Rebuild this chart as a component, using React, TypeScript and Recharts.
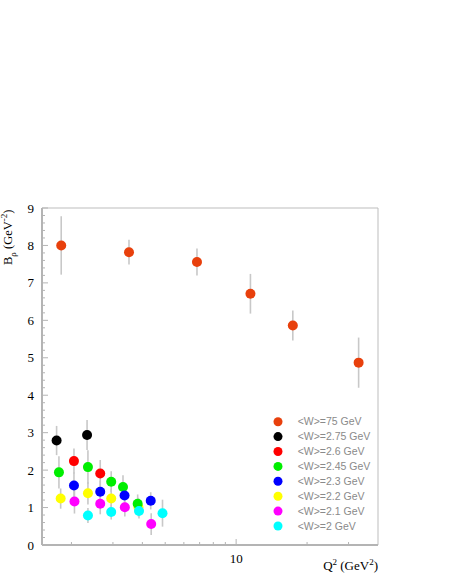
import React from 'react';
import { ScatterChart, Scatter, XAxis, YAxis, ErrorBar, ReferenceArea, Legend } from 'recharts';

// Q^2 (GeV^2), B_rho (GeV^-2) and its error, one set per <W> bin
const q2W75 = [1.81, 3.51, 6.82, 11.5, 17.4, 33.1];
const bW75 = [8.0, 7.82, 7.56, 6.71, 5.86, 4.87];
const eW75 = [0.78, 0.33, 0.36, 0.53, 0.4, 0.67];

const q2W275 = [1.73, 2.33];
const bW275 = [2.79, 2.94];
const eW275 = [0.39, 0.4];

const q2W26 = [2.05, 2.65];
const bW26 = [2.24, 1.91];
const eW26 = [0.34, 0.36];

const q2W245 = [1.77, 2.35, 2.95, 3.31, 3.82];
const bW245 = [1.94, 2.08, 1.69, 1.55, 1.1];
const eW245 = [0.43, 0.45, 0.28, 0.31, 0.25];

const q2W23 = [2.05, 2.65, 3.36, 4.34];
const bW23 = [1.59, 1.42, 1.32, 1.18];
const eW23 = [0.35, 0.3, 0.25, 0.23];

const q2W22 = [1.8, 2.35, 2.95, 3.85];
const bW22 = [1.24, 1.38, 1.24, 1.01];
const eW22 = [0.27, 0.3, 0.25, 0.25];

const q2W21 = [2.06, 2.65, 3.37, 4.36];
const bW21 = [1.16, 1.1, 1.01, 0.56];
const eW21 = [0.32, 0.28, 0.25, 0.29];

const q2W2 = [2.35, 2.95, 3.87, 4.87];
const bW2 = [0.79, 0.88, 0.91, 0.85];
const eW2 = [0.2, 0.2, 0.2, 0.36];

const xTicks = [2, 3, 4, 5, 6, 7, 8, 9, 10, 20, 30];
const xLabels = [10];
const yMajor = [0, 1, 2, 3, 4, 5, 6, 7, 8, 9];

const pts = (q: number[], b: number[], e: number[]) => q.map((x, i) => ({ q2: x, b: b[i], err: e[i] }));

const series = [
  { name: '<W>=75 GeV', color: '#e8400c', data: pts(q2W75, bW75, eW75) },
  { name: '<W>=2.75 GeV', color: '#000000', data: pts(q2W275, bW275, eW275) },
  { name: '<W>=2.6 GeV', color: '#ff0000', data: pts(q2W26, bW26, eW26) },
  { name: '<W>=2.45 GeV', color: '#00ee00', data: pts(q2W245, bW245, eW245) },
  { name: '<W>=2.3 GeV', color: '#0000ff', data: pts(q2W23, bW23, eW23) },
  { name: '<W>=2.2 GeV', color: '#ffff00', data: pts(q2W22, bW22, eW22) },
  { name: '<W>=2.1 GeV', color: '#ff00ff', data: pts(q2W21, bW21, eW21) },
  { name: '<W>=2 GeV', color: '#00ffff', data: pts(q2W2, bW2, eW2) },
];
// draw order of the markers (yellow sits under green / cyan in the original)
const drawOrder = [0, 5, 1, 2, 3, 4, 6, 7];

const allErrors = series.flatMap((s) => s.data);

// minor ticks every 0.2
const yTicks = yMajor.flatMap((v, i) => (i < yMajor.length - 1 ? [v, v + 0.2, v + 0.4, v + 0.6, v + 0.8] : [v]));

const AXIS = '#b4b4b4';
const SERIF = '"Liberation Serif", "Times New Roman", serif';

const XTick = (props: any) => {
  const { x, y, payload } = props;
  const v = payload.value;
  const labelled = xLabels.includes(v);
  return (
    <g>
      <line x1={x} x2={x} y1={y} y2={y - (labelled ? 6 : 3)} stroke={AXIS} />
      {labelled && (
        <text x={x} y={y + 18} textAnchor="middle" fontFamily={SERIF} fontSize={13} fill="#000">
          {v}
        </text>
      )}
    </g>
  );
};

const YTick = (props: any) => {
  const { x, y, payload } = props;
  const v = payload.value;
  const major = Math.abs(v - Math.round(v)) < 1e-6;
  return (
    <g>
      <line x1={x} x2={x + (major ? 6 : 3)} y1={y} y2={y} stroke={AXIS} />
      {major && (
        <text x={x - 8} y={y + 4.5} textAnchor="end" fontFamily={SERIF} fontSize={13} fill="#000">
          {Math.round(v)}
        </text>
      )}
    </g>
  );
};

const LegendBox = () => (
  <svg width={130} height={125}>
    {series.map((s, i) => (
      <g key={s.name}>
        <circle cx={10} cy={9.7 + i * 14.9} r={4.5} fill={s.color} />
        <text
          x={29.7}
          y={9.7 + i * 14.9 + 3.7}
          fontFamily='"Liberation Sans", Arial, sans-serif'
          fontSize={10.5}
          fill="#8a8a8a"
        >
          {s.name}
        </text>
      </g>
    ))}
  </svg>
);

export default function App() {
  return (
    <div style={{ position: 'absolute', left: 0, top: 0, width: 454, height: 587, background: '#fff' }}>
      <ScatterChart width={454} height={587} margin={{ top: 208, right: 76, bottom: 0, left: 0 }}>
        <ReferenceArea x1={1.5} x2={40} y1={0} y2={9} fill="none" stroke="#bdbdbd" strokeWidth={1} ifOverflow="visible" />
        <XAxis
          type="number"
          dataKey="q2"
          scale="log"
          domain={[1.5, 40]}
          allowDataOverflow
          ticks={xTicks}
          interval={0}
          height={42}
          tickSize={0}
          tickMargin={0}
          tickLine={false}
          tick={<XTick />}
          axisLine={{ stroke: AXIS, strokeWidth: 2 }}
        />
        <YAxis
          type="number"
          dataKey="b"
          domain={[0, 9]}
          ticks={yTicks}
          interval={0}
          width={42}
          tickSize={0}
          tickMargin={0}
          tickLine={false}
          tick={<YTick />}
          axisLine={{ stroke: AXIS, strokeWidth: 2 }}
        />
        <Scatter data={allErrors} isAnimationActive={false} shape={() => <g />} legendType="none">
          <ErrorBar dataKey="err" direction="y" width={0} stroke="#c8c8c8" strokeWidth={1.6} isAnimationActive={false} />
        </Scatter>
        {drawOrder.map((k) => {
          const s = series[k];
          return (
            <Scatter
              key={s.name}
              name={s.name}
              data={s.data}
              fill={s.color}
              isAnimationActive={false}
              shape={(p: any) => <circle cx={p.cx} cy={p.cy} r={5} fill={s.color} />}
            />
          );
        })}
        <Legend
          verticalAlign="middle"
          align="center"
          layout="horizontal"
          wrapperStyle={{ left: 268, top: 412, width: 130, height: 125 }}
          content={() => <LegendBox />}
        />
        <text x={12} y={265} transform="rotate(-90 12 265)" fontFamily={SERIF} fontSize={12.5} fill="#000">
          B
          <tspan dy={3.5} fontSize={9}>ρ</tspan>
          <tspan dy={-3.5}> (GeV</tspan>
          <tspan dy={-5} fontSize={9}>-2</tspan>
          <tspan dy={5}>)</tspan>
        </text>
        <text x={378} y={570} textAnchor="end" fontFamily={SERIF} fontSize={13} fill="#000">
          Q
          <tspan dy={-5} fontSize={9}>2</tspan>
          <tspan dy={5}> (GeV</tspan>
          <tspan dy={-5} fontSize={9}>2</tspan>
          <tspan dy={5}>)</tspan>
        </text>
      </ScatterChart>
    </div>
  );
}
